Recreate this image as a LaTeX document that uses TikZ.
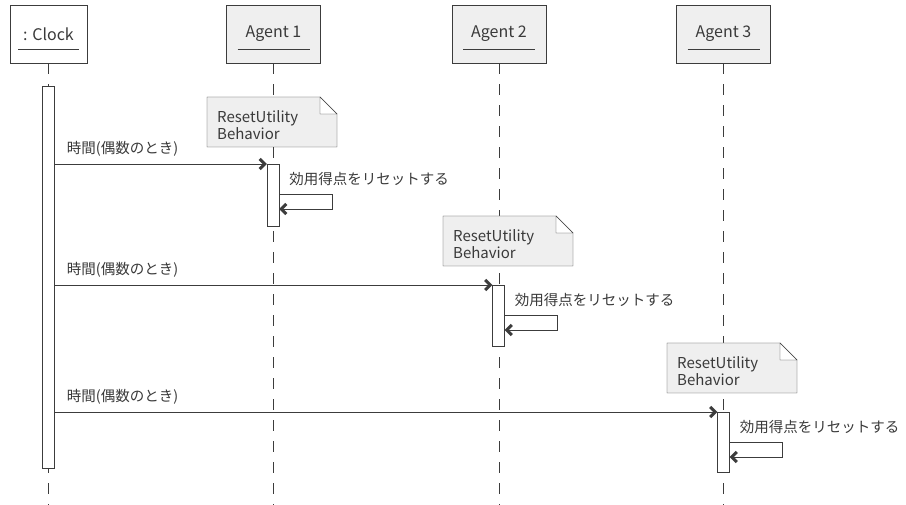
\documentclass[tikz,border=0pt]{standalone}
\usepackage{fontspec}
\setmainfont{Noto Sans CJK JP}
\usetikzlibrary{arrows.meta,positioning,calc}
\definecolor{cL}{HTML}{3c3c3c}
\definecolor{cT}{HTML}{3a3a3a}
\definecolor{cG}{HTML}{efefef}
\tikzset{
  head/.style={draw=cL,fill=cG,minimum width=94pt,minimum height=58pt,
              inner sep=0pt,text=cT,font=\fontsize{16}{18}\selectfont},
  life/.style={cL,dash pattern=on 11pt off 10pt},
  act/.style={draw=cL,fill=white,minimum width=12pt,inner sep=0pt,anchor=north},
  msg/.style={-{Straight Barb[length=5pt,width=10pt,line width=3pt,line join=miter]},
              cL,line width=.8pt},
  lbl/.style={inner sep=0pt,anchor=west,text=cT,font=\fontsize{14.5}{16}\selectfont},
  notebox/.style={draw=cL,fill=cG},
  notetxt/.style={inner sep=0pt,anchor=north west,align=left,text=cT,
              font=\fontsize{15}{17}\selectfont},
}

\begin{document}
\begin{tikzpicture}[x=1pt,y=-1pt]
  \fill[white] (0,0) rectangle (906,505);
  \useasboundingbox (0,0) rectangle (906,505);
  % heads and lifelines
  \node[head,fill=white,minimum width=77pt] (clk) at (48.5,34) {: Clock};
  \node[head] (ag1) at (273.5,34) {Agent 1};
  \node[head] (ag2) at (499,34) {Agent 2};
  \node[head] (ag3) at (723.5,34) {Agent 3};
  \foreach \h/\w in {clk/61,ag1/72,ag2/72,ag3/72}{
    \draw[cL] ($(\h.center)+(-\w/2,15)$) -- ++(\w,0);
    \draw[life] (\h.south) -- (\h.south |- 0,505);
  }
  % notes
  \foreach \n/\x/\y in {1/207/97,2/443/216,3/667/343}{
    \draw[notebox] (\x,\y) -- ++(113,0) -- ++(17,17) -- ++(0,33) -- ++(-130,0) -- cycle;
    \draw[cL,fill=white] (\x+113,\y) -- ++(0,17) -- ++(17,0) -- cycle;
    \node[notetxt] (n\n) at (\x+10,\y+13) {ResetUtility\\Behavior};
  }
  % activations
  \node[act,minimum height=382pt] (clka) at (48.5,86) {};
  \node[act,minimum height=62pt] (act1) at (273,164) {};
  \node[act,minimum height=61pt] (act2) at (498.5,285) {};
  \node[act,minimum height=60pt] (act3) at (723.5,412) {};
  % messages
  \foreach \i in {1,2,3}{
    \draw[msg] (clka.east |- act\i.north) -- (act\i.north west);
    \node[lbl] (m\i) at ($(clka.east |- act\i.north)+(12,-15)$) {時間(偶数のとき)};
    \draw[msg] ($(act\i.north east)+(0,30)$) -| ($(act\i.north east)+(53,45)$)
      -- ($(act\i.north east)+(0,45)$);
    \node[lbl] (r\i) at ($(act\i.north east)+(10,15)$) {効用得点をリセットする};
  }
\end{tikzpicture}
\end{document}
